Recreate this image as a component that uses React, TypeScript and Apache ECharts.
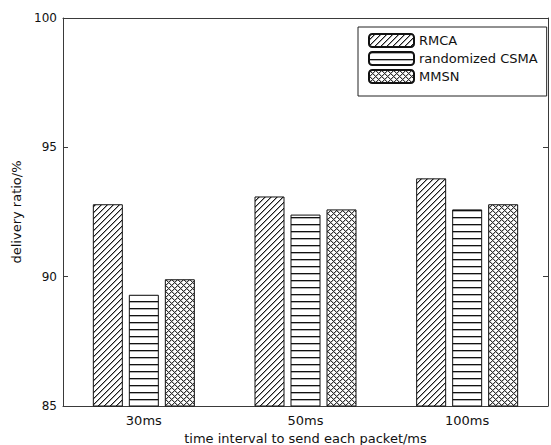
import React, { useEffect, useRef } from "react";
import * as echarts from "echarts";

const categories = ["30ms", "50ms", "100ms"];
const seriesNames = ["RMCA", "randomized CSMA", "MMSN"];
const rmca = [92.8, 93.1, 93.8];
const csma = [89.3, 92.4, 92.6];
const mmsn = [89.9, 92.6, 92.8];
const yTicks = [85, 90, 95, 100];

const FONT = "DejaVu Sans";

function makePattern(kind: string) {
  const w = 6;
  const h = kind === "h" ? 7 : 6;
  const c = document.createElement("canvas");
  c.width = w;
  c.height = h;
  const ctx = c.getContext("2d")!;
  ctx.fillStyle = "#ffffff";
  ctx.fillRect(0, 0, w, h);
  const px = (x: number, y: number, col: string) => {
    ctx.fillStyle = col;
    ctx.fillRect(x, y, 1, 1);
  };
  for (let x = 0; x < w; x++) {
    for (let y = 0; y < h; y++) {
      if (kind === "d") {
        const m = (x + y) % 6;
        if (m === 5) px(x, y, "#1a1a1a");
        else if (m === 0) px(x, y, "#a0a0a0");
      } else if (kind === "h") {
        if (y === 0) px(x, y, "#111111");
        else if (y === 1) px(x, y, "#b0b0b0");
      } else if (kind === "x") {
        if ((x + y) % 6 === 0 || (x - y + 6) % 6 === 0) px(x, y, "#333333");
        else if ((x + y) % 6 === 1 || (x - y + 6) % 6 === 1) px(x, y, "#bdbdbd");
      }
    }
  }
  return { image: c, repeat: "repeat", imageWidth: w, imageHeight: h } as any;
}

export default function App() {
  const ref = useRef<HTMLDivElement>(null);
  useEffect(() => {
    if (!ref.current) return;
    const chart = echarts.init(ref.current, undefined, { renderer: "svg" });
    const axisColor = "#3a3a3a";
    const textColor = "#111111";
    const patterns = [makePattern("d"), makePattern("h"), makePattern("x")];
    const datas = [rmca, csma, mmsn];
    chart.setOption({
      animation: false,
      backgroundColor: "#ffffff",
      grid: { left: 63, right: 3, top: 18, bottom: 39, outerBoundsMode: "none", containLabel: false },
      legend: {
        orient: "vertical",
        left: 358,
        top: 27,
        itemWidth: 45,
        itemHeight: 13,
        itemGap: 3,
        padding: [6, 9, 12, 10],
        borderColor: "#222",
        borderWidth: 1,
        backgroundColor: "#ffffff",
        data: seriesNames,
        textStyle: { fontFamily: FONT, fontSize: 13, lineHeight: 15, color: textColor },
      },
      xAxis: [
        {
          type: "category",
          data: categories,
          position: "bottom",
          name: "time interval to send each packet/ms",
          nameLocation: "middle",
          nameGap: 24,
          nameTextStyle: { fontFamily: FONT, fontSize: 13, lineHeight: 14, color: textColor },
          axisLine: { lineStyle: { color: axisColor, width: 1 } },
          axisTick: { inside: true, alignWithLabel: true, length: 5, lineStyle: { color: axisColor } },
          axisLabel: { fontFamily: FONT, fontSize: 13, color: textColor, margin: 8 },
          splitLine: { show: false },
        },
        {
          type: "category",
          data: categories,
          position: "top",
          axisLine: { lineStyle: { color: axisColor, width: 1 } },
          axisTick: { inside: true, alignWithLabel: true, length: 5, lineStyle: { color: axisColor } },
          axisLabel: { show: false },
          splitLine: { show: false },
        },
      ],
      yAxis: [
        {
          type: "value",
          min: yTicks[0],
          max: yTicks[yTicks.length - 1],
          interval: 5,
          position: "left",
          name: "delivery ratio/%",
          nameLocation: "middle",
          nameGap: 36,
          nameTextStyle: { fontFamily: FONT, fontSize: 13, color: textColor },
          axisLine: { show: true, lineStyle: { color: axisColor, width: 1 } },
          axisTick: { show: true, inside: true, length: 5, lineStyle: { color: axisColor } },
          axisLabel: { fontFamily: FONT, fontSize: 12, color: textColor, margin: 6 },
          splitLine: { show: false },
        },
        {
          type: "value",
          min: yTicks[0],
          max: yTicks[yTicks.length - 1],
          interval: 5,
          position: "right",
          axisLine: { show: true, lineStyle: { color: axisColor, width: 1 } },
          axisTick: { show: true, inside: true, length: 5, lineStyle: { color: axisColor } },
          axisLabel: { show: false },
          splitLine: { show: false },
        },
      ],
      series: seriesNames.map((n, i) => ({
        name: n,
        type: "bar",
        data: datas[i],
        barWidth: 30,
        barGap: "20%",
        itemStyle: { color: patterns[i], borderColor: "#111", borderWidth: 1 },
      })),
    });
    return () => chart.dispose();
  }, []);
  return (
    <div
      ref={ref}
      style={{ position: "fixed", left: 0, top: 0, width: 551, height: 445 }}
    />
  );
}
